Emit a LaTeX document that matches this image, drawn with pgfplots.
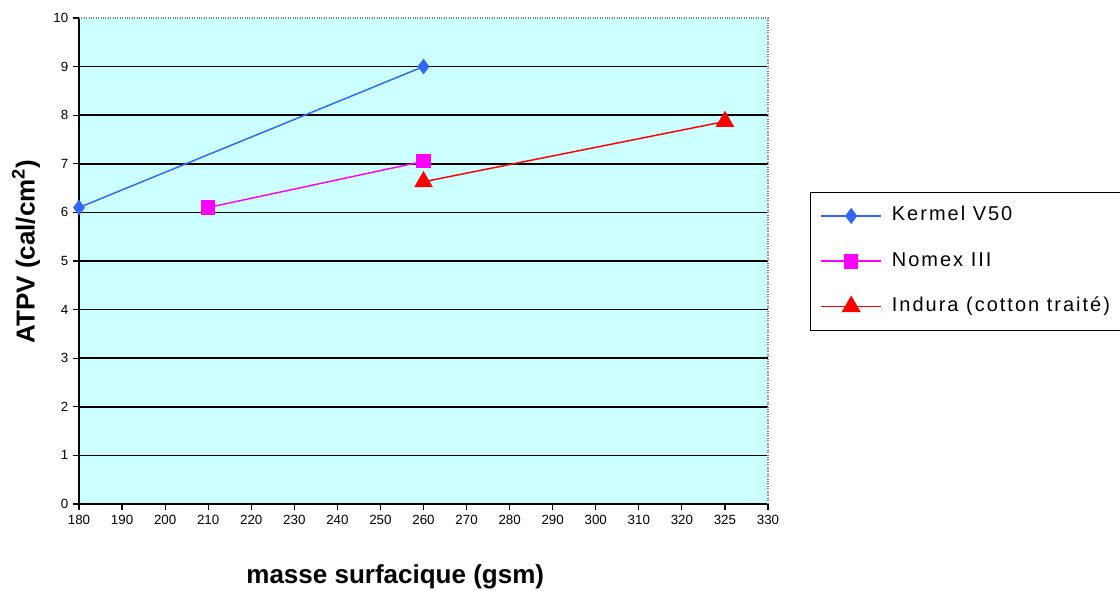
\documentclass[border=0pt]{standalone}
\usepackage{fontspec}
\setmainfont{Liberation Sans}
\newfontfamily\legfont[LetterSpace=10]{Liberation Sans}
\usepackage{pgfplots}
\pgfplotsset{compat=1.18}
\definecolor{bgcyan}{HTML}{CCFFFF}
\definecolor{kermel}{HTML}{3366FF}
\definecolor{nomex}{HTML}{FF00FF}
\definecolor{indura}{HTML}{FF0000}

\begin{document}
\begin{tikzpicture}
\useasboundingbox (0,0) rectangle (840pt,443.25pt);
\begin{axis}[
    at={(59.25pt,65.25pt)}, anchor=south west,
    scale only axis, width=516.75pt, height=364.5pt,
    xmin=0, xmax=16, ymin=0, ymax=10,
    xtick={0,...,16},
    xticklabels={180,190,200,210,220,230,240,250,260,270,280,290,300,310,320,325,330},
    ytick={1,...,9},
    extra y ticks={0,10},
    extra y tick style={grid=none},
    ymajorgrids,
    grid style={black, line width=1.1pt},
    axis x line*=bottom, axis y line*=left,
    x axis line style={-}, y axis line style={-},
    axis line style={black, line width=1.1pt},
    tick align=outside, major tick length=4.5pt,
    tick style={black, line width=0.9pt},
    /pgf/number format/assume math mode=true,
    ticklabel style={font=\fontsize{10}{12}\selectfont},
    axis background/.style={fill=bgcyan},
    clip=false,
    ylabel={ATPV (cal/cm\textsuperscript{2})},
    ylabel style={font=\fontsize{19.5}{22}\selectfont\bfseries, at={(axis description cs:-0.0769,0.519)}, anchor=center},
    xlabel={masse surfacique (gsm)},
    xlabel style={font=\fontsize{19.5}{22}\selectfont\bfseries, at={(axis description cs:0.459,-0.1646)}, anchor=base},
    legend cell align=left,
    legend image code/.code={%
        \draw[mark repeat=2,mark phase=2,#1,line width=1.3pt] plot coordinates {(0pt,0pt) (22.5pt,0pt) (45pt,0pt)};
        \path (52.5pt,0pt);},
    legend style={at={(axis description cs:1.061,0.642)}, anchor=north west,
        draw=black, fill=white,
        font=\legfont\fontsize{15}{18}\selectfont,
        inner xsep=7.5pt, inner ysep=10.5pt, row sep=19.5pt,
        nodes={inner sep=0pt, text height=11pt, text depth=3.5pt}},
]
\addplot[kermel, line width=1.1pt, mark=diamond*, mark size=5pt] coordinates {(0,6.1) (8,9.0)};
\addplot[nomex, line width=1.1pt, mark=square*, mark size=4.8pt] coordinates {(3,6.1) (8,7.05)};
\addplot[indura, line width=1.1pt, mark=triangle*, mark size=7pt] coordinates {(8,6.63) (15,7.87)};
\legend{Kermel V50, Nomex III, Indura (cotton traité)}
\draw[gray, densely dotted, line width=0.8pt] (rel axis cs:0,1) -- (rel axis cs:1,1) -- (rel axis cs:1,0);
\end{axis}
\end{tikzpicture}
\end{document}
